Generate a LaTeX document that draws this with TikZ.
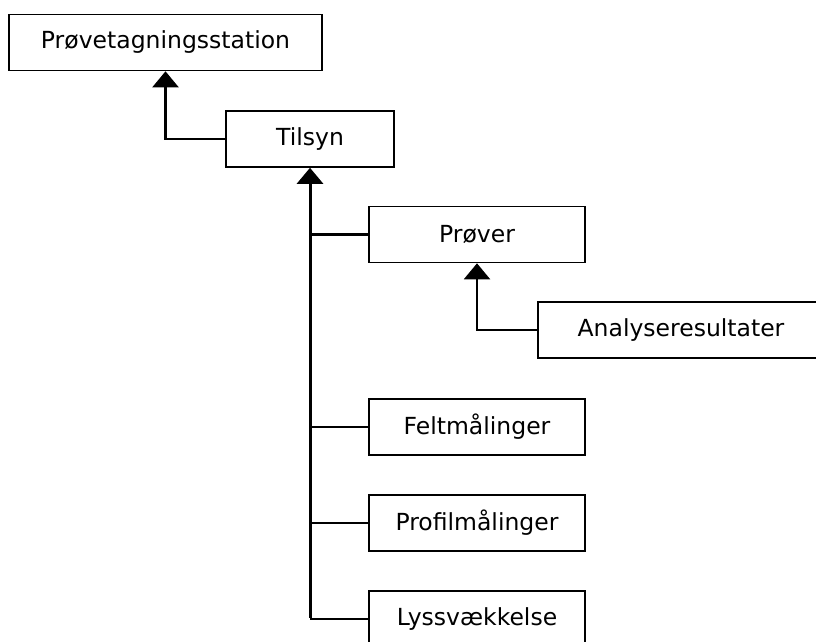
\documentclass[tikz,border=0pt]{standalone}
\usepackage{fontspec}
\setmainfont{DejaVu Sans}
\usetikzlibrary{arrows.meta}
\begin{document}
\begin{tikzpicture}[x=1pt,y=-1pt,
  box/.style={draw=black,line width=1.6pt,fill=white,inner sep=0pt,minimum height=56pt,font=\fontsize{23.5}{28}\selectfont},
  conn/.style={draw=black,line width=2.2pt},
  trunk/.style={draw=black,line width=3pt},
  tip/.style={-{Triangle[width=26pt,length=16pt]}}]
\useasboundingbox (0,0) rectangle (816,641);
\clip (0,0) rectangle (816,641);
\node[box,minimum width=313pt] (A) at (165.5,42.5) {Prøvetagningsstation};
\node[box,minimum width=168pt] (T) at (310,139) {Tilsyn};
\node[box,minimum width=216pt] (P) at (477,234.5) {Prøver};
\node[box,minimum width=286pt] (R) at (681,330) {Analyseresultater};
\node[box,minimum width=216pt] (F) at (477,427) {Feltmålinger};
\node[box,minimum width=216pt] (M) at (477,523) {Profilmålinger};
\node[box,minimum width=216pt] (L) at (477,619) {Lyssvækkelse};
\draw[conn,tip] (T.west) -| (A.south);
\draw[conn,tip] (R.west) -| (P.south);
\draw[conn] (P.west) -- (P.west -| T.south);
\draw[conn] (F.west) -- (F.west -| T.south);
\draw[conn] (M.west) -- (M.west -| T.south);
\draw[conn] (L.west) -- (L.west -| T.south);
\draw[trunk,tip] ([yshift=1.1pt]L.west -| T.south) -- (T.south);
\end{tikzpicture}
\end{document}
